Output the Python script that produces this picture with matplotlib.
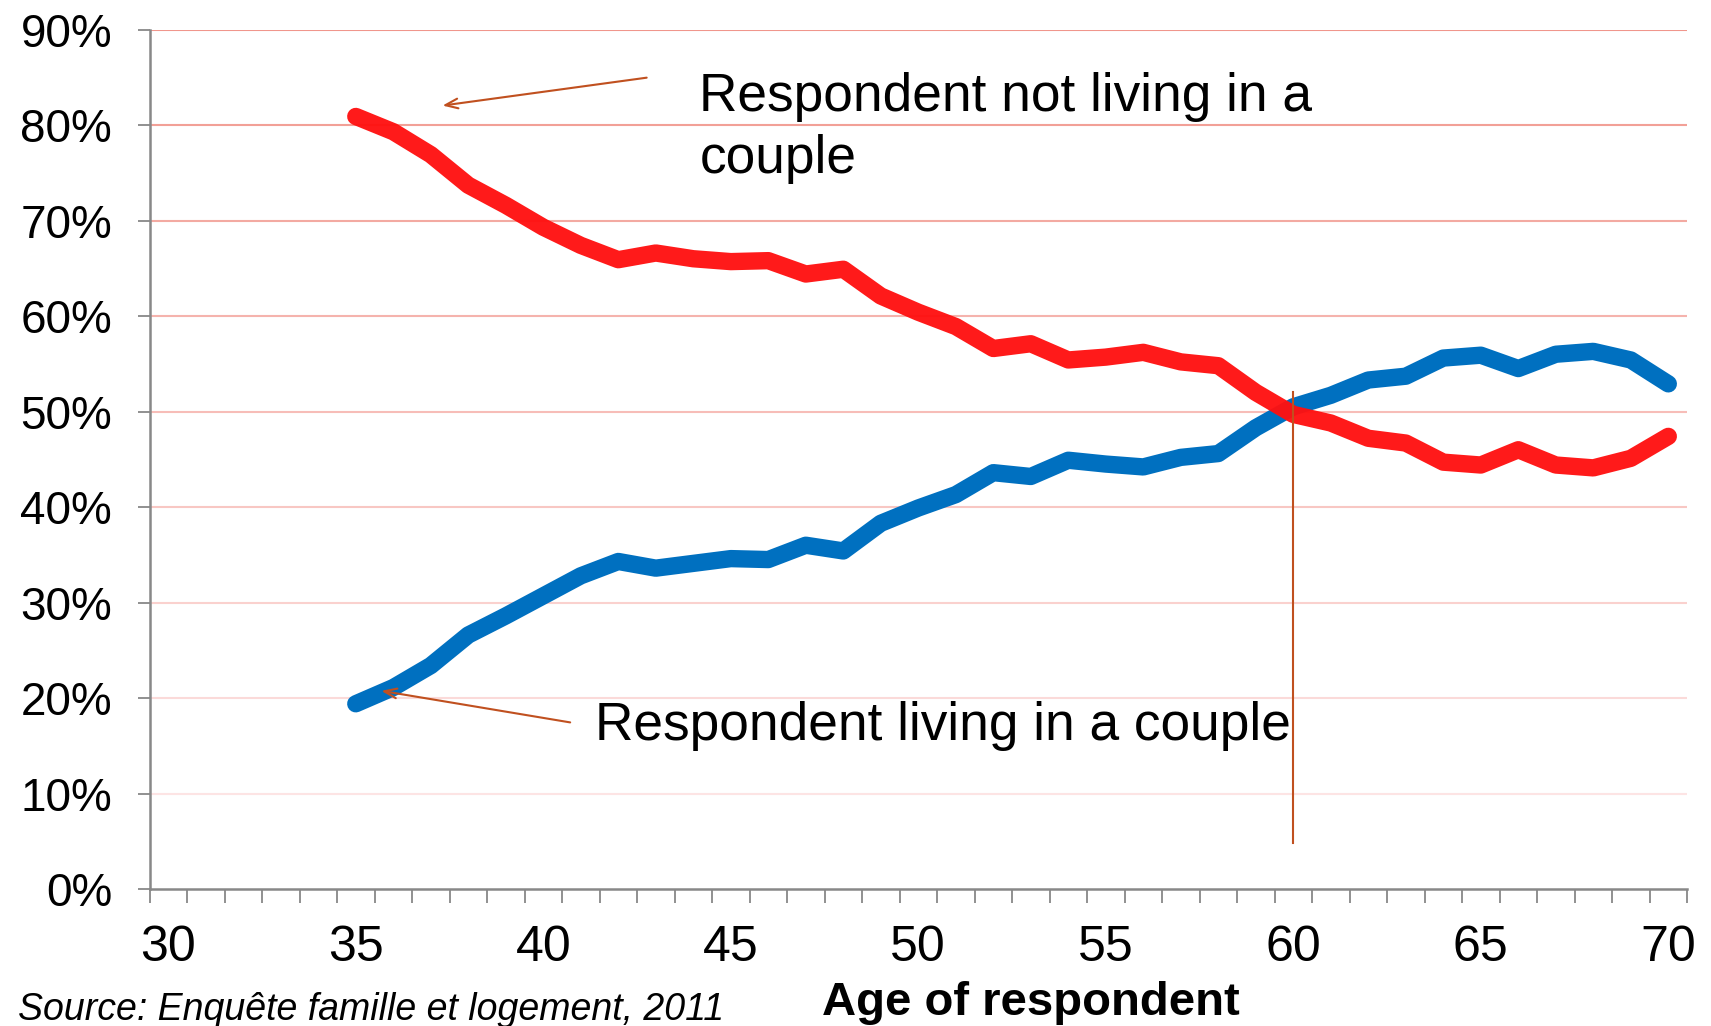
import matplotlib
matplotlib.use("Agg")
import matplotlib.pyplot as plt
import numpy as np

plt.rcParams['font.family'] = ['Liberation Sans', 'DejaVu Sans']

ages = list(range(35, 71))
not_couple = [80.9, 79.3, 76.9, 73.7, 71.6, 69.3, 67.4, 65.9, 66.6, 66.0,
              65.7, 65.8, 64.4, 64.9, 62.1, 60.4, 58.9, 56.6, 57.1, 55.4,
              55.7, 56.2, 55.2, 54.8, 52.0, 49.7, 48.8, 47.2, 46.7, 44.7,
              44.4, 46.0, 44.4, 44.1, 45.1, 47.4]
couple = [19.4, 21.1, 23.4, 26.6, 28.6, 30.7, 32.8, 34.3, 33.6, 34.1,
          34.6, 34.5, 36.0, 35.4, 38.3, 39.9, 41.3, 43.6, 43.2, 44.9,
          44.5, 44.2, 45.2, 45.6, 48.3, 50.5, 51.7, 53.3, 53.7, 55.6,
          55.9, 54.5, 56.0, 56.3, 55.4, 52.9]
y_ticks = [0, 10, 20, 30, 40, 50, 60, 70, 80, 90]
x_labels = [30, 35, 40, 45, 50, 55, 60, 65, 70]
first_age, last_age = 30, 70

fig = plt.figure(figsize=(17.11, 10.26), dpi=100)
ax = fig.add_axes([0.0874, 0.1335, 0.986 - 0.0874, 0.9712 - 0.1335])

# gradient-coloured gridlines
top_c = np.array([240, 150, 140]) / 255
bot_c = np.array([253, 228, 228]) / 255
for v in y_ticks[1:]:
    t = (v - 10) / 80
    c = bot_c + (top_c - bot_c) * t
    ax.axhline(v, color=c, lw=1.5, zorder=1)

ax.plot(ages, couple, color='#0070C0', lw=12.5, solid_capstyle='round',
        solid_joinstyle='round', zorder=3)
ax.plot(ages, not_couple, color='#FF1010', lw=12.5, solid_capstyle='round',
        solid_joinstyle='round', zorder=4, alpha=0.96)

# category axis: labels at category centres, tick marks between categories
ax.set_xlim(first_age - 0.5, last_age + 0.5)
ax.set_ylim(0, 90)
ax.set_yticks(y_ticks)
ax.set_yticklabels([f"{v}%" for v in y_ticks])
ax.set_xticks(x_labels)
ax.set_xticks(np.arange(first_age - 0.5, last_age + 1), minor=True)

for s in ['top', 'right']:
    ax.spines[s].set_visible(False)
for s in ['left', 'bottom']:
    ax.spines[s].set_color('#888888')
    ax.spines[s].set_linewidth(1.8)

ax.tick_params(axis='x', which='major', length=0, labelsize=36, pad=26)
ax.tick_params(axis='x', which='minor', direction='out', length=10, width=1.3,
               color='#888888')
ax.tick_params(axis='y', which='both', direction='out', length=9, width=1.3,
               color='#888888', labelsize=33, pad=18)

arrow_c = '#C0501F'
ax.annotate('', xy=(37.24, 82.0), xytext=(42.83, 85.0),
            arrowprops=dict(arrowstyle='->,head_length=0.9,head_width=0.35',
                            color=arrow_c, lw=1.5))
ax.annotate('', xy=(35.61, 20.8), xytext=(40.79, 17.4),
            arrowprops=dict(arrowstyle='->,head_length=0.9,head_width=0.35',
                            color=arrow_c, lw=1.5))
ax.plot([60, 60], [4.8, 52.0], color=arrow_c, lw=1.5, zorder=5)

ax.text(44.16, 85.6, "Respondent not living in a\ncouple", fontsize=38.3,
        va='top', ha='left', linespacing=1.33)
ax.text(41.37, 19.7, "Respondent living in a couple", fontsize=38.3,
        va='top', ha='left')

fig.text(0.6027, 0.0107, "Age of respondent", fontsize=34, fontweight='bold',
         ha='center', va='baseline')
fig.text(0.0108, 0.006, "Source: Enquête famille et logement, 2011",
         fontsize=27, style='italic', ha='left', va='baseline')

fig.savefig("out.png", dpi=100)
